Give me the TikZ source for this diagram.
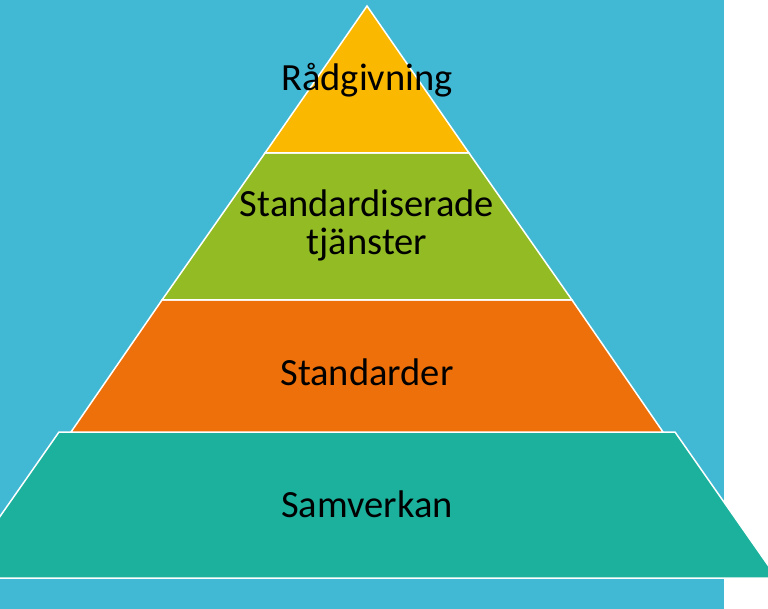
\documentclass[tikz,border=0pt]{standalone}
\usepackage{fontspec}
\setmainfont{Carlito}
\definecolor{sky}{RGB}{65,185,213}
\definecolor{gold}{RGB}{251,184,0}
\definecolor{leaf}{RGB}{147,188,36}
\definecolor{rust}{RGB}{238,112,10}
\definecolor{sea}{RGB}{27,177,156}

\begin{document}
\begin{tikzpicture}[x=1pt,y=-1pt,
  layer/.style={draw=white,line width=1.5pt,line join=miter},
  tag/.style={font=\fontsize{38.5}{40}\selectfont,text=black,align=center,inner sep=0pt}]
   \clip (0,0) rectangle (768,609);
   \fill[sky] (0,0) rectangle (724,609);
   \fill[white] (724,0) rectangle (768,609);
   \draw[layer,fill=sea] (59,432) -- (675,432) -- (777,578) -- (-43,578) -- cycle;
   \draw[layer,fill=rust] (162,300) -- (572,300) -- (663,432) -- (71,432) -- cycle;
   \draw[layer,fill=leaf] (265,153) -- (469,153) -- (572,300) -- (162,300) -- cycle;
   \draw[layer,fill=gold] (367,6) -- (469,153) -- (265,153) -- cycle;
   \node[tag,anchor=base] (advice) at (367,91) {Rådgivning};
   \node[tag,anchor=base] (services) at (367,217) {Standardiserade};
   \node[tag,anchor=base] (servicesb) at (367,255) {tjänster};
   \node[tag,anchor=base] (standards) at (367,385) {Standarder};
   \node[tag,anchor=base] (cooperation) at (367,517) {Samverkan};
  \end{tikzpicture}
\end{document}
